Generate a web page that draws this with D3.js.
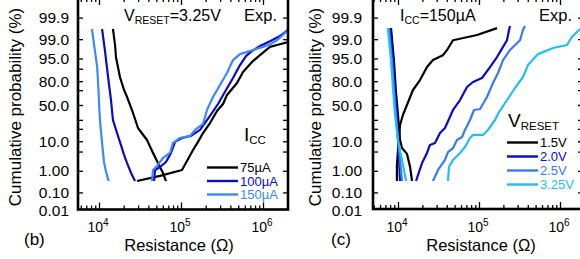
<!DOCTYPE html>
<html>
<head>
<meta charset="utf-8">
<script src="https://cdn.jsdelivr.net/npm/d3@7"></script>
<style>
body { margin: 0; background: #fff; }
svg { display: block; font-family: "Liberation Sans", Arial, sans-serif; }
.tick line { stroke: #000; stroke-width: 1.3; }
</style>
</head>
<body>
<script>
// probability axis ticks (%)
var probTicks = [0.1, 1, 5, 10, 20, 30, 50, 70, 80, 90, 95, 99, 99.9];
var probLabels = [[0.01, "0.01"], [0.1, "0.10"], [1, "1.00"], [10, "10.0"], [50, "50.0"],
                  [80, "80.0"], [95, "95.0"], [99, "99.0"], [99.9, "99.9"]];
var decades = [1e4, 1e5, 1e6];

// (b) V_RESET = 3.25V, three compliance currents. pairs are [resistance (ohm), probability (%)]
var iccNames = ["75µA", "100µA", "150µA"];
var iccColors = ["#000000", "#0a0ac8", "#3a88ff"];
var icc75Lrs = [[14800, 99.64], [15700, 98.3], [16100, 95.5], [18000, 83.9], [20200, 70.2], [22000, 61.1],
                [26000, 38.9], [29900, 20.8], [32500, 17.0], [38500, 10.8], [45600, 4.5], [52400, 2.0],
                [60300, 0.81], [65600, 0.36]];
var icc75Hrs = [[29100, 0.36], [55500, 0.61], [102800, 1.08], [118400, 2.4], [140100, 5.6], [161200, 9.6],
                [185500, 16.1], [225900, 26.2], [274800, 41.6], [325200, 51.4], [363900, 63.8], [481900, 78.2],
                [570300, 87.8], [734400, 93.6], [919100, 96.1], [1217000, 98.0], [1482000, 98.3], [2018000, 98.7]];
var icc100Lrs = [[10900, 99.64], [11800, 97.4], [12900, 83.9], [14000, 57.0], [14800, 29.8], [16600, 16.1],
                 [18500, 7.9], [20200, 3.9], [22000, 2.0], [24600, 0.81], [27500, 0.36]];
var icc100Hrs = [[46900, 0.36], [48200, 1.08], [55500, 1.42], [65600, 2.2], [75500, 4.5], [84500, 9.6],
                 [102800, 12.2], [132400, 13.7], [170500, 18.9], [225900, 34.9], [282600, 51.4], [353900, 70.2],
                 [430700, 83.0], [524300, 92.1], [620500, 95.8], [734400, 97.2], [919100, 98.15], [1217000, 98.8],
                 [1612000, 99.26], [2018000, 99.6]];
var icc150Lrs = [[8200, 99.64], [8900, 97.4], [9500, 91.0], [9900, 66.4], [10100, 43.0], [10400, 24.0],
                 [10900, 9.0], [11500, 2.2], [12200, 0.90], [13100, 0.36]];
var icc150Hrs = [[44300, 0.36], [45600, 1.08], [51000, 1.56], [60300, 3.05], [73400, 4.5], [79900, 9.0],
                 [97200, 12.2], [128800, 13.7], [148200, 18.9], [185500, 25.1], [207500, 43.0], [245600, 61.1],
                 [298900, 76.0], [363900, 87.1], [430700, 94.4], [524300, 96.4], [694100, 97.2], [1000000, 98.0],
                 [1217000, 98.4], [1482000, 98.9], [1962000, 99.55]];

// (c) I_CC = 150µA, four reset voltages
var vrNames = ["1.5V", "2.0V", "2.5V", "3.25V"];
var vrColors = ["#000000", "#0a0ac8", "#3a7af0", "#1ec0f2"];
var v15Lrs = [[8200, 99.67], [8900, 94.4], [9400, 70.2], [10000, 36.2], [10600, 10.8], [11200, 6.4],
              [12900, 4.2], [14100, 1.42], [14900, 0.36]];
var v15Hrs = [[9700, 0.36], [9700, 1.7], [10000, 5.6], [10600, 24.0], [11500, 36.2], [12900, 50.0],
              [15300, 70.2], [18700, 81.1], [22800, 91.0], [27000, 94.4], [35900, 96.1], [40300, 97.4],
              [47800, 98.9], [94500, 99.33], [167000, 99.67]];
var v20Lrs = [[8000, 99.67], [8700, 94.4], [9200, 70.2], [9700, 36.2], [10000, 10.8], [10300, 2.6], [10600, 0.36]];
var v20Hrs = [[16700, 0.36], [19800, 2.0], [22800, 4.5], [24800, 7.9], [28600, 9.0], [33000, 16.1],
              [38000, 20.8], [47800, 43.0], [58300, 57.0], [71100, 73.8], [84300, 79.2], [108900, 83.0],
              [136700, 91.0], [166800, 95.5], [197900, 98.0], [221700, 98.9], [234700, 99.6], [241400, 99.74]];
var v25Lrs = [[7700, 99.67], [8400, 94.4], [8900, 70.2], [9400, 36.2], [10000, 10.8], [10600, 2.6], [11200, 0.36]];
var v25Hrs = [[27000, 0.36], [31200, 1.08], [38000, 2.6], [41400, 4.8], [47800, 6.4], [53500, 10.8],
              [61700, 12.9], [67200, 18.9], [77400, 29.8], [86800, 43.0], [102900, 44.4], [125500, 61.1],
              [148900, 78.2], [171600, 87.1], [197900, 94.4], [241400, 97.4], [320800, 98.9], [349300, 99.6],
              [369800, 99.74]];
var v325Lrs = [[7500, 99.67], [8200, 94.4], [8700, 70.2], [9200, 36.2], [10000, 10.8], [11200, 2.6], [12600, 0.36]];
var v325Hrs = [[41400, 0.36], [42600, 1.42], [47800, 2.6], [58300, 4.5], [67200, 6.9], [77400, 12.2],
               [84300, 14.5], [112000, 14.5], [129200, 18.9], [157600, 29.8], [176600, 40.2], [221700, 57.0],
               [278300, 72.6], [349300, 83.9], [402700, 92.1], [535100, 96.4], [819400, 97.8], [1220000, 98.3],
               [1406000, 99.19], [1766000, 99.64]];

var width = 580, height = 259;

// inverse normal cdf (Acklam) for the probit axis
function probit(p) {
    var a = [-39.69683028665376, 220.9460984245205, -275.9285104469687, 138.3577518672690, -30.66479806614716, 2.506628277459239];
    var b = [-54.47609879822406, 161.5858368580409, -155.6989798598866, 66.80131188771972, -13.28068155288572];
    var c = [-0.007784894002430293, -0.3223964580411365, -2.400758277161838, -2.549732539343734, 4.374664141464968, 2.938163982698783];
    var d = [0.007784695709041462, 0.3224671290700398, 2.445134137142996, 3.754408661907416];
    var q, r;
    if (p < 0.02425) {
        q = Math.sqrt(-2 * Math.log(p));
        return (((((c[0]*q+c[1])*q+c[2])*q+c[3])*q+c[4])*q+c[5]) / ((((d[0]*q+d[1])*q+d[2])*q+d[3])*q+1);
    }
    if (p > 1 - 0.02425) {
        q = Math.sqrt(-2 * Math.log(1 - p));
        return -(((((c[0]*q+c[1])*q+c[2])*q+c[3])*q+c[4])*q+c[5]) / ((((d[0]*q+d[1])*q+d[2])*q+d[3])*q+1);
    }
    q = p - 0.5; r = q * q;
    return (((((a[0]*r+a[1])*r+a[2])*r+a[3])*r+a[4])*r+a[5])*q / (((((b[0]*r+b[1])*r+b[2])*r+b[3])*r+b[4])*r+1);
}

var svg = d3.select("body").append("svg")
    .attr("width", width)
    .attr("height", height);

function minorTicks(x) {
    var d = x.domain(), out = [];
    for (var e = 3; e <= 6; e++)
        for (var m = 2; m <= 9; m++) {
            var v = m * Math.pow(10, e);
            if (v > d[0] && v < d[1]) out.push(v);
        }
    return out;
}

function drawPanel(o) {
    var g = svg.append("g");
    var left = o.left, right = o.right, top = -2, bottom = o.bottom;

    var x = d3.scaleLog().domain([1e4, 1e6]).range(o.xr);
    x.domain([x.invert(left), x.invert(right)]).range([left, right]);
    var z = d3.scaleLinear().domain([probit(0.0001), probit(0.9999)]).range([210.2, -0.2]);
    var y = function(p) { return z(probit(p / 100)); };

    var clipId = "clip" + o.tag;
    svg.append("clipPath").attr("id", clipId).append("rect")
        .attr("x", left).attr("y", top).attr("width", right - left).attr("height", bottom - top);

    var line = d3.line().x(function(d) { return x(d[0]); }).y(function(d) { return y(d[1]); });
    var curves = g.append("g").attr("clip-path", "url(#" + clipId + ")");
    o.series.forEach(function(s, i) {
        s.forEach(function(branch) {
            curves.append("path").datum(branch)
                .attr("d", line)
                .attr("fill", "none")
                .attr("stroke", o.colors[i])
                .attr("stroke-width", 2.2)
                .attr("stroke-linejoin", "round");
        });
    });

    // inward ticks on all four sides
    var zt = probTicks.map(function(p) { return probit(p / 100); });
    g.append("g").attr("transform", "translate(" + left + ",0)")
        .call(d3.axisLeft(z).tickValues(zt).tickSize(-5).tickFormat(""));
    g.append("g").attr("transform", "translate(" + right + ",0)")
        .call(d3.axisRight(z).tickValues(zt).tickSize(-5).tickFormat(""));
    g.append("g").attr("transform", "translate(0," + bottom + ")")
        .call(d3.axisBottom(x).tickValues(decades).tickSize(-7).tickFormat(""));
    g.append("g").attr("transform", "translate(0," + bottom + ")")
        .call(d3.axisBottom(x).tickValues(minorTicks(x)).tickSize(-4).tickFormat(""));
    g.append("g").attr("transform", "translate(0," + top + ")")
        .call(d3.axisTop(x).tickValues(decades).tickSize(-7).tickFormat(""));
    g.append("g").attr("transform", "translate(0," + top + ")")
        .call(d3.axisTop(x).tickValues(minorTicks(x)).tickSize(-4).tickFormat(""));
    g.selectAll(".domain").remove();

    g.append("rect")
        .attr("x", left).attr("y", top)
        .attr("width", right - left).attr("height", bottom - top)
        .attr("fill", "none").attr("stroke", "#000").attr("stroke-width", 2.6);

    // y labels
    probLabels.forEach(function(pl) {
        g.append("text")
            .attr("x", o.yLabelX).attr("y", y(pl[0]) + 5.5)
            .attr("text-anchor", "end")
            .style("font-size", "15.5px")
            .text(pl[1]);
    });

    // x labels 10^n
    decades.forEach(function(v) {
        var t = g.append("text")
            .attr("x", x(v) - 1).attr("y", 231.5)
            .attr("text-anchor", "middle")
            .style("font-size", "14px");
        t.append("tspan").text("10");
        t.append("tspan").attr("dy", -6).style("font-size", "10px").text(Math.round(Math.log10(v)));
    });

    g.append("text")
        .attr("transform", "translate(" + o.yTitleX + ",107) rotate(-90)")
        .attr("text-anchor", "middle")
        .style("font-size", "17px")
        .text("Cumulative probability (%)");

    g.append("text")
        .attr("x", o.xTitleX).attr("y", 251)
        .attr("text-anchor", "middle")
        .style("font-size", "16.5px")
        .text("Resistance (Ω)");

    g.append("text")
        .attr("x", o.tagX).attr("y", 245)
        .style("font-size", "17px")
        .text("(" + o.tag + ")");

    g.append("text")
        .attr("x", right - 11).attr("y", 20.5)
        .attr("text-anchor", "end")
        .style("font-size", "16.5px")
        .text("Exp.");

    // condition note at top
    var note = g.append("text").attr("x", o.noteX).attr("y", 21).style("font-size", "16px");
    note.append("tspan").text(o.note[0]);
    note.append("tspan").attr("dy", 3).style("font-size", "10.5px").text(o.note[1]);
    note.append("tspan").attr("dy", -3).text(o.note[2]);

    // legend
    var lt = g.append("text").attr("x", o.legX + o.legTitleDx).attr("y", o.legTitleY).style("font-size", "19px");
    lt.append("tspan").text(o.legTitle[0]);
    lt.append("tspan").attr("dy", 3).style("font-size", "11.5px").text(o.legTitle[1]);
    o.names.forEach(function(n, i) {
        var ly = o.legY + i * o.legStep;
        g.append("line")
            .attr("x1", o.legX).attr("x2", o.legX + 31)
            .attr("y1", ly).attr("y2", ly)
            .attr("stroke", o.colors[i]).attr("stroke-width", 2.4);
        g.append("text")
            .attr("x", o.legX + 33).attr("y", ly + 4.5)
            .attr("fill", o.colors[i])
            .style("font-size", "13px")
            .text(n);
    });
}

drawPanel({
    tag: "b", left: 78, right: 288, bottom: 209.5, xr: [99, 263],
    yLabelX: 69, yTitleX: 21, xTitleX: 179, tagX: 24, noteX: 124,
    note: ["V", "RESET", "=3.25V"],
    legTitle: ["I", "CC"], legTitleDx: 37, legTitleY: 141,
    legX: 207, legY: 167.5, legStep: 13.5,
    names: iccNames, colors: iccColors,
    series: [[icc75Lrs, icc75Hrs], [icc100Lrs, icc100Hrs], [icc150Lrs, icc150Hrs]]
});

drawPanel({
    tag: "c", left: 373, right: 583, bottom: 209, xr: [398, 560],
    yLabelX: 362, yTitleX: 321, xTitleX: 481, tagX: 331, noteX: 400,
    note: ["I", "CC", "=150µA"],
    legTitle: ["V", "RESET"], legTitleDx: 1, legTitleY: 127,
    legX: 507, legY: 142.5, legStep: 14,
    names: vrNames, colors: vrColors,
    series: [[v15Lrs, v15Hrs], [v20Lrs, v20Hrs], [v25Lrs, v25Hrs], [v325Lrs, v325Hrs]]
});
</script>
</body>
</html>
